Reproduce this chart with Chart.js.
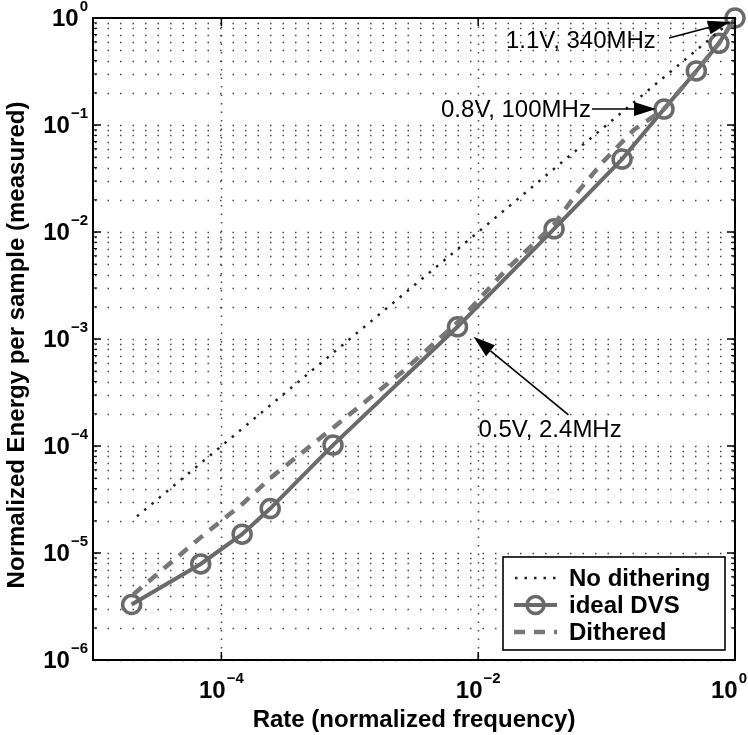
<!DOCTYPE html>
<html>
<head>
<meta charset="utf-8">
<script src="https://cdn.jsdelivr.net/npm/chart.js@4"></script>
<style>
  body { margin: 0; background: #fff; }
  canvas { display: block; }
</style>
</head>
<body>
<canvas id="energyChart" width="748" height="735"></canvas>
<script>
// values (log-log)
const dvsRate = [2.0e-5, 6.9e-5, 1.45e-4, 2.4e-4, 7.4e-4, 6.9e-3, 0.039, 0.132, 0.28, 0.50, 0.75, 1.0];
const dvsEnergy = [3.3e-6, 7.9e-6, 1.5e-5, 2.6e-5, 1.02e-4, 1.3e-3, 0.0107, 0.048, 0.141, 0.32, 0.58, 1.0];

const ditherRate = [2.06e-5, 6.9e-5, 1.47e-4, 2.4e-4, 7.5e-4, 2.6e-3, 7.0e-3, 0.0164, 0.039, 0.061, 0.095, 0.163, 0.28, 0.5, 0.75, 1.0];
const ditherEnergy = [4.1e-6, 1.4e-5, 2.9e-5, 5.0e-5, 1.5e-4, 5.0e-4, 1.45e-3, 4.4e-3, 0.0118, 0.0245, 0.046, 0.09, 0.141, 0.32, 0.58, 1.0];

const noDitherRate = [2.2e-5, 1.0];
const noDitherEnergy = [2.2e-5, 1.0];

const xTickValues = [1e-4, 1e-2, 1];
const xTickExp = ['\u22124', '\u22122', '0'];
const yTickValues = [1e-6, 1e-5, 1e-4, 1e-3, 1e-2, 1e-1, 1];
const yTickExp = ['\u22126', '\u22125', '\u22124', '\u22123', '\u22122', '\u22121', '0'];

const labels = [
  { text: '1.1V, 340MHz', idx: 11 },
  { text: '0.8V, 100MHz', idx: 8 },
  { text: '0.5V, 2.4MHz', idx: 5 }
];

const toXY = (xs, ys) => xs.map((x, i) => ({ x: x, y: ys[i] }));

const FONT = '"Liberation Sans", Arial, Helvetica, sans-serif';
const dvsColor = '#6a6a6a';
const ditherColor = '#777';

function drawPow(ctx, exp, x, y, align) {
  ctx.font = 'bold 24px ' + FONT;
  const wb = ctx.measureText('10').width;
  ctx.font = 'bold 15px ' + FONT;
  const we = ctx.measureText(exp).width;
  let left = x;
  if (align === 'right') left = x - wb - we - 1;
  if (align === 'center') left = x - (wb + we + 1) / 2;
  left = Math.min(left, 747 - wb - we - 1);
  ctx.textAlign = 'left';
  ctx.textBaseline = 'middle';
  ctx.font = 'bold 24px ' + FONT;
  ctx.fillText('10', left, y);
  ctx.textBaseline = 'alphabetic';
  ctx.font = 'bold 15px ' + FONT;
  ctx.fillText(exp, left + wb + 1, y - 8);
}

function arrow(ctx, x0, y0, x1, y1) {
  const a = Math.atan2(y1 - y0, x1 - x0);
  const len = 22, hw = 7;
  const bx = x1 - len * Math.cos(a), by = y1 - len * Math.sin(a);
  ctx.strokeStyle = '#000';
  ctx.lineWidth = 1.6;
  ctx.setLineDash([]);
  ctx.beginPath();
  ctx.moveTo(x0, y0);
  ctx.lineTo(bx, by);
  ctx.stroke();
  ctx.fillStyle = '#000';
  ctx.beginPath();
  ctx.moveTo(x1, y1);
  ctx.lineTo(bx + hw * Math.sin(a), by - hw * Math.cos(a));
  ctx.lineTo(bx - hw * Math.sin(a), by + hw * Math.cos(a));
  ctx.closePath();
  ctx.fill();
}

const matlabLook = {
  id: 'matlabLook',
  beforeDatasetsDraw(chart) {
    const { ctx, chartArea: a, scales: { x, y } } = chart;
    ctx.save();
    ctx.strokeStyle = '#444';
    ctx.lineWidth = 1.5;
    // horizontal dotted grid, majors and minors
    ctx.setLineDash([1.5, 11]);
    yTickValues.forEach((v, i) => {
      if (i === yTickValues.length - 1) return;
      for (let m = 1; m < 10; m++) {
        const py = Math.round(y.getPixelForValue(v * m)) + 0.5;
        ctx.beginPath();
        ctx.moveTo(a.left + 2, py);
        ctx.lineTo(a.right, py);
        ctx.stroke();
      }
    });
    // vertical dotted grid at the labelled decades
    ctx.setLineDash([1.5, 7]);
    xTickValues.forEach(v => {
      const px = Math.round(x.getPixelForValue(v)) + 0.5;
      if (px >= a.right - 1) return;
      ctx.beginPath();
      ctx.moveTo(px, a.top);
      ctx.lineTo(px, a.bottom);
      ctx.stroke();
    });
    ctx.restore();
  },
  afterDatasetsDraw(chart) {
    const { ctx, chartArea: a, scales: { x, y } } = chart;
    ctx.save();
    ctx.setLineDash([]);
    ctx.strokeStyle = '#000';
    ctx.lineWidth = 1.5;

    // ticks inside the box
    yTickValues.forEach((v, i) => {
      const py = y.getPixelForValue(v);
      ctx.beginPath();
      ctx.moveTo(a.left, py); ctx.lineTo(a.left + 8, py);
      ctx.moveTo(a.right, py); ctx.lineTo(a.right - 8, py);
      ctx.stroke();
      if (i === yTickValues.length - 1) return;
      ctx.lineWidth = 1;
      for (let m = 2; m < 10; m++) {
        const pm = y.getPixelForValue(v * m);
        ctx.beginPath();
        ctx.moveTo(a.left, pm); ctx.lineTo(a.left + 4, pm);
        ctx.moveTo(a.right, pm); ctx.lineTo(a.right - 4, pm);
        ctx.stroke();
      }
      ctx.lineWidth = 1.5;
    });
    xTickValues.forEach(v => {
      const px = x.getPixelForValue(v);
      ctx.beginPath();
      ctx.moveTo(px, a.bottom); ctx.lineTo(px, a.bottom - 8);
      ctx.moveTo(px, a.top); ctx.lineTo(px, a.top + 8);
      ctx.stroke();
    });

    // box
    ctx.lineWidth = 2;
    ctx.strokeRect(a.left, a.top, a.right - a.left, a.bottom - a.top);

    // tick labels
    ctx.fillStyle = '#000';
    yTickValues.forEach((v, i) => drawPow(ctx, yTickExp[i], a.left - 5, y.getPixelForValue(v) + 1, 'right'));
    xTickValues.forEach((v, i) => drawPow(ctx, xTickExp[i], x.getPixelForValue(v), a.bottom + 31, 'center'));

    // axis titles
    ctx.font = 'bold 24px ' + FONT;
    ctx.textAlign = 'center';
    ctx.textBaseline = 'middle';
    ctx.fillText('Rate (normalized frequency)', (a.left + a.right) / 2, 720);
    ctx.save();
    ctx.translate(17, (a.top + a.bottom) / 2 + 6);
    ctx.rotate(-Math.PI / 2);
    ctx.fillText('Normalized Energy per sample (measured)', 0, 0);
    ctx.restore();

    // annotations
    ctx.font = '24px ' + FONT;
    ctx.textAlign = 'left';
    ctx.textBaseline = 'middle';
    const p = i => ({ x: x.getPixelForValue(dvsRate[i]), y: y.getPixelForValue(dvsEnergy[i]) });
    let q = p(labels[0].idx);
    ctx.fillText(labels[0].text, q.x - 229, q.y + 23);
    arrow(ctx, q.x - 66, q.y + 20, q.x - 5, q.y + 4);
    q = p(labels[1].idx);
    ctx.fillText(labels[1].text, q.x - 223, q.y + 1);
    arrow(ctx, q.x - 72, q.y, q.x - 8, q.y);
    q = p(labels[2].idx);
    ctx.fillText(labels[2].text, q.x + 21, q.y + 104);
    arrow(ctx, q.x + 111, q.y + 88, q.x + 16, q.y + 10);

    // legend
    const lx = 503, ly = 557, lw = 222, lh = 93;
    ctx.fillStyle = '#fff';
    ctx.fillRect(lx, ly, lw, lh);
    ctx.strokeStyle = '#000';
    ctx.lineWidth = 1.6;
    ctx.strokeRect(lx, ly, lw, lh);
    const rows = [578, 605, 632];
    // No dithering
    ctx.strokeStyle = '#222';
    ctx.lineWidth = 2.5;
    ctx.setLineDash([2.5, 7]);
    ctx.beginPath(); ctx.moveTo(515, rows[0]); ctx.lineTo(558, rows[0]); ctx.stroke();
    // ideal DVS
    ctx.setLineDash([]);
    ctx.strokeStyle = dvsColor;
    ctx.lineWidth = 4;
    ctx.beginPath(); ctx.moveTo(514, rows[1]); ctx.lineTo(557, rows[1]); ctx.stroke();
    ctx.lineWidth = 3.5;
    ctx.beginPath(); ctx.arc(535.5, rows[1], 8.5, 0, Math.PI * 2); ctx.stroke();
    // Dithered
    ctx.strokeStyle = ditherColor;
    ctx.lineWidth = 4.5;
    ctx.setLineDash([11, 9]);
    ctx.beginPath(); ctx.moveTo(514, rows[2]); ctx.lineTo(557, rows[2]); ctx.stroke();
    ctx.setLineDash([]);
    ctx.fillStyle = '#000';
    ctx.font = 'bold 24px ' + FONT;
    ctx.fillText('No dithering', 569, rows[0] + 1);
    ctx.fillText('ideal DVS', 569, rows[1] + 1);
    ctx.fillText('Dithered', 569, rows[2] + 1);
    ctx.restore();
  }
};

new Chart(document.getElementById('energyChart'), {
  type: 'scatter',
  data: {
    datasets: [{
      label: 'No dithering',
      data: toXY(noDitherRate, noDitherEnergy),
      showLine: true,
      borderColor: '#222',
      borderWidth: 2.5,
      borderDash: [2.5, 7],
      pointRadius: 0
    }, {
      label: 'Dithered',
      data: toXY(ditherRate, ditherEnergy),
      showLine: true,
      borderColor: ditherColor,
      borderWidth: 4.5,
      borderDash: [11, 9],
      pointRadius: 0
    }, {
      label: 'ideal DVS',
      data: toXY(dvsRate, dvsEnergy),
      showLine: true,
      borderColor: dvsColor,
      borderWidth: 4,
      pointRadius: 9,
      pointBorderWidth: 3.5,
      pointBorderColor: dvsColor,
      pointBackgroundColor: 'rgba(0,0,0,0)'
    }]
  },
  options: {
    responsive: false,
    devicePixelRatio: 1,
    animation: false,
    clip: false,
    layout: { padding: { left: 93, top: 18, right: 13, bottom: 75 } },
    plugins: { legend: { display: false }, tooltip: { enabled: false } },
    scales: {
      x: {
        type: 'logarithmic',
        min: 1e-5,
        max: 1,
        afterBuildTicks: s => { s.ticks = xTickValues.map(v => ({ value: v })); },
        ticks: { display: false },
        grid: { display: false, drawTicks: false },
        border: { display: false }
      },
      y: {
        type: 'logarithmic',
        min: 1e-6,
        max: 1,
        afterBuildTicks: s => { s.ticks = yTickValues.map(v => ({ value: v })); },
        ticks: { display: false },
        grid: { display: false, drawTicks: false },
        border: { display: false }
      }
    }
  },
  plugins: [matlabLook]
});
</script>
</body>
</html>
